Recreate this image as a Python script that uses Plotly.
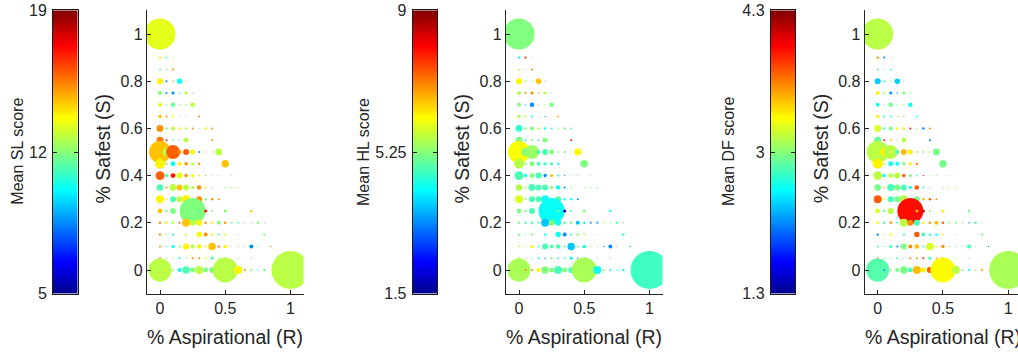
import numpy as np
import plotly.graph_objects as go

# ---------------- data ----------------
aspirational = [
    0,
    0, .05, .1,
    0, .05, .1,
    0, .05, .1, .15, .2,
    0, .05, .1, .15, .2, .25,
    0, .05, .1, .15, .2, .25,
    0, .05, .1, .15, .2, .3,
    0, .05, .1, .15, .2, .25, .3, .35, .4,
    0, .05, .1, .15, .2, .4,
    0, .05, .1, .15, .2, .25, .3, .35, .4, .45,
    0, .05, .1, .15, .2, .25, .3, .5,
    0, .05, .1, .15, .2, .25, .3, .35, .4, .45, .55,
    0, .05, .1, .15, .2, .25, .3, .35, .4, .5, .55, .6,
    0, .05, .1, .15, .2, .25, .3, .35, .4, .45,
    0, .05, .1, .25, .3, .35, .4, .5, .7,
    0, .05, .1, .15, .2, .25, .3, .35, .4, .45, .5, .55, .6, .65, .7, .75, .8,
    0, .05, .1, .2, .3, .35, .4, .45, .5, .6, .8,
    0, .05, .1, .15, .2, .25, .3, .35, .4, .45, .5, .55, .6, .65, .7, .75, .85,
    0, .05, .1, .15, .2, .25, .3, .35, .4, .45, .5, .6, .7,
    0, .05, .1, .15, .2, .25, .3, .35, .4, .5, .6, .65, .7, .75, .8, 1,
]

safest = (
    [1.0]
    + [0.9] * 3
    + [0.85] * 3
    + [0.8] * 5
    + [0.75] * 6
    + [0.7] * 6
    + [0.65] * 6
    + [0.6] * 9
    + [0.55] * 6
    + [0.5] * 10
    + [0.45] * 8
    + [0.4] * 11
    + [0.35] * 12
    + [0.3] * 10
    + [0.25] * 9
    + [0.2] * 17
    + [0.15] * 11
    + [0.1] * 17
    + [0.05] * 13
    + [0.0] * 16
)

n_resp = [
    480,
    3, 2, 1,
    2, 1, 2,
    18, 2, 1, 15, 1,
    8, 2, 5, 1, 5, 1,
    8, 1, 10, 1, 1, 10,
    6, 2, 2, 1, 1, 2,
    24, 3, 8, 3, 3, 2, 1, 3, 2,
    24, 2, 2, 1, 12, 2,
    242, 32, 98, 8, 18, 12, 2, 1, 1, 24,
    50, 3, 12, 8, 6, 5, 3, 28,
    40, 6, 12, 18, 6, 5, 2, 1, 1, 1, 1,
    21, 2, 24, 18, 18, 5, 10, 2, 1, 1, 1, 1,
    32, 2, 18, 18, 32, 3, 18, 3, 3, 2,
    12, 3, 18, 338, 3, 5, 2, 5, 3,
    3, 3, 3, 2, 32, 18, 18, 3, 3, 8, 3, 2, 2, 1, 1, 3, 1,
    3, 1, 3, 3, 15, 8, 3, 3, 2, 1, 3,
    2, 1, 5, 2, 18, 8, 10, 2, 28, 2, 6, 1, 1, 1, 8, 1, 1,
    2, 1, 1, 2, 1, 2, 2, 2, 5, 1, 2, 1, 1,
    265, 2, 2, 8, 28, 12, 32, 12, 18, 312, 32, 2, 2, 1, 3, 722,
]

sl_mean = [
    13.3,
    13.8, 11.2, 12.0,
    11.2, 12.0, 15.2,
    13.8, 8.5, 15.2, 10.3, 12.0,
    11.9, 8.5, 8.5, 10.3, 12.7, 12.0,
    13.3, 11.2, 11.6, 12.0, 12.0, 12.7,
    14.5, 15.2, 13.8, 12.0, 12.0, 15.2,
    15.2, 11.9, 12.7, 13.8, 12.7, 15.2, 12.0, 13.8, 15.2,
    15.5, 16.9, 11.9, 12.0, 12.7, 15.2,
    14.5, 12.7, 15.9, 15.2, 15.9, 13.8, 8.5, 12.0, 12.0, 12.7,
    13.8, 11.9, 10.3, 13.8, 15.2, 12.7, 15.2, 14.5,
    15.9, 11.2, 16.9, 13.3, 15.2, 13.8, 13.8, 15.2, 12.0, 12.0, 12.0,
    11.2, 15.2, 12.7, 14.5, 12.7, 12.7, 15.2, 13.8, 12.0, 12.0, 12.0, 12.7,
    13.8, 13.8, 11.2, 12.7, 13.8, 12.0, 15.2, 11.9, 15.2, 15.2,
    14.5, 11.9, 11.9, 11.9, 11.2, 16.9, 11.9, 11.9, 14.5,
    15.2, 13.8, 12.7, 15.9, 14.5, 12.7, 13.8, 15.2, 13.8, 11.9, 15.2, 12.0, 11.2, 12.0, 12.0, 11.9, 12.0,
    15.2, 12.0, 11.2, 12.7, 13.8, 15.2, 13.8, 11.9, 12.7, 12.0, 11.9,
    15.2, 10.3, 10.3, 12.0, 13.8, 12.7, 13.8, 13.8, 14.5, 15.9, 13.8, 12.0, 12.0, 12.0, 8.5, 12.0, 15.2,
    15.2, 12.0, 12.0, 10.3, 12.0, 15.2, 15.2, 13.8, 11.2, 12.0, 11.9, 12.0, 12.0,
    12.7, 13.8, 12.0, 10.3, 11.2, 11.9, 12.7, 11.9, 11.9, 12.7, 13.8, 15.2, 11.9, 10.3, 11.9, 12.7,
]

hl_mean = [
    5.2,
    4.35, 7.9, 5.25,
    5.6, 5.25, 7.0,
    6.2, 5.6, 5.25, 6.6, 5.25,
    5.6, 7.0, 7.0, 7.0, 5.6, 5.25,
    5.2, 4.35, 3.4, 5.25, 5.25, 5.2,
    5.6, 5.6, 4.35, 5.25, 3.4, 6.6,
    4.6, 5.2, 5.2, 5.6, 4.35, 4.35, 5.25, 5.2, 4.8,
    5.2, 4.35, 5.2, 3.4, 5.2, 7.9,
    6.1, 5.2, 5.4, 4.8, 4.8, 5.2, 5.25, 3.4, 5.25, 6.2,
    5.6, 5.2, 5.2, 4.8, 4.8, 4.8, 4.35, 5.2,
    4.8, 4.35, 5.2, 4.8, 3.4, 6.6, 4.35, 3.4, 5.25, 5.25, 5.25,
    5.6, 5.6, 4.8, 4.8, 4.8, 5.2, 4.35, 3.4, 5.25, 5.25, 5.25, 4.8,
    5.9, 5.2, 4.8, 4.8, 4.35, 4.8, 4.8, 4.35, 4.35, 3.4,
    5.2, 5.2, 4.8, 4.3, 5.2, 1.9, 4.35, 5.2, 4.35,
    5.2, 4.8, 4.8, 4.35, 3.8, 5.2, 4.35, 4.8, 5.2, 3.8, 4.35, 3.4, 3.4, 5.25, 5.25, 4.8, 5.25,
    5.2, 5.25, 5.2, 4.35, 4.35, 3.4, 4.8, 5.2, 5.6, 5.25, 4.35,
    5.6, 5.6, 6.2, 4.8, 4.8, 4.8, 4.8, 4.8, 3.8, 5.2, 4.35, 5.25, 5.25, 3.4, 3.4, 5.25, 3.4,
    5.6, 5.25, 4.8, 4.35, 3.4, 4.8, 4.35, 4.8, 4.35, 3.4, 4.35, 5.25, 5.25,
    5.5, 7.0, 7.0, 6.2, 5.2, 5.2, 4.8, 5.2, 4.8, 5.5, 4.35, 5.2, 4.35, 4.35, 4.35, 4.7,
]

df_mean = [
    2.95,
    3.5, 2.05, 2.8,
    2.6, 2.8, 2.6,
    2.25, 2.45, 2.8, 2.25, 2.8,
    3.2, 2.8, 2.05, 2.05, 2.75, 2.8,
    2.45, 2.8, 2.75, 2.8, 2.8, 2.45,
    3.2, 2.45, 2.45, 2.8, 3.5, 2.45,
    3.05, 2.6, 2.75, 3.2, 3.2, 3.85, 2.8, 2.05, 3.5,
    2.7, 3.85, 3.35, 2.8, 2.95, 2.05,
    2.95, 3.2, 2.95, 2.6, 3.35, 3.2, 2.8, 3.5, 2.8, 2.75,
    3.2, 2.95, 2.45, 2.45, 2.75, 3.2, 3.5, 2.75,
    2.95, 2.45, 2.95, 2.95, 3.65, 2.75, 2.6, 3.85, 2.8, 2.8, 2.8,
    2.75, 3.2, 2.6, 2.75, 2.6, 2.45, 3.65, 2.45, 2.8, 2.8, 2.8, 3.2,
    3.65, 3.2, 2.6, 2.75, 2.95, 3.2, 2.75, 3.35, 3.65, 3.5,
    3.05, 2.75, 2.95, 3.88, 3.2, 4.1, 2.8, 3.2, 2.75,
    3.2, 2.6, 3.5, 2.6, 2.95, 3.5, 2.6, 3.2, 3.5, 3.35, 3.65, 2.8, 2.75, 2.8, 2.05, 2.6, 2.8,
    2.05, 2.8, 3.2, 2.6, 3.65, 2.6, 2.45, 2.45, 3.2, 2.8, 2.75,
    2.6, 2.8, 2.6, 2.05, 2.75, 3.5, 3.35, 2.6, 3.05, 3.2, 3.5, 2.8, 2.8, 2.8, 2.6, 2.8, 2.05,
    3.5, 2.8, 2.8, 2.6, 2.6, 3.5, 3.5, 3.85, 2.6, 3.5, 3.5, 2.8, 2.8,
    2.65, 2.05, 2.8, 2.75, 2.75, 2.6, 3.35, 3.2, 3.65, 3.17, 2.95, 2.8, 2.45, 3.2, 3.35, 2.9,
]

score_labels = ["Mean SL score", "Mean HL score", "Mean DF score"]
score_ranges = [(5, 19), (1.5, 9), (1.3, 4.3)]
score_tickvals = [[5, 12, 19], [1.5, 5.25, 9], [1.3, 2.8, 4.3]]
score_ticktext = [["5", "12", "19"], ["1.5", "5.25", "9"], ["1.3", "3", "4.3"]]
x_tickvals = [0, 0.5, 1]
x_ticktext = ["0", "0.5", "1"]
y_tickvals = [0, 0.2, 0.4, 0.6, 0.8, 1]
y_ticktext = ["0", "0.2", "0.4", "0.6", "0.8", "1"]

# ---------------- style / layout ----------------
JET = [[0.0, "rgb(0,0,143)"], [0.111, "rgb(0,0,255)"], [0.365, "rgb(0,255,255)"],
       [0.619, "rgb(255,255,0)"], [0.873, "rgb(255,0,0)"], [1.0, "rgb(128,0,0)"]]
W, H = 1018, 354
TOP, BOT = 10.4, 293.6
FONT = "Liberation Sans, Arial, Helvetica, sans-serif"
TXT = "#262626"
TICK_SIZE = 16


def fx(px):
    return px / W


def fy(py):
    return 1 - py / H


cbar_left = [53.0, 412.7, 770.8]
cbar_w = 24.5
ax_left = [146.95, 505.95, 864.65]
ax_w = 156.6
cbar_title_dx = [-35.0, -49.4, -42.5]

fig = go.Figure()
layout = dict(width=W, height=H, margin=dict(l=0, r=0, t=0, b=0, pad=0, autoexpand=False),
              paper_bgcolor="white", plot_bgcolor="white",
              font=dict(family=FONT, color=TXT, size=15), showlegend=False)
annotations = []
values = [sl_mean, hl_mean, df_mean]

for i in range(3):
    cmin, cmax = score_ranges[i]
    ci = 2 * i + 1
    si = 2 * i + 2
    cxn = "x" if ci == 1 else f"x{ci}"
    cyn = "y" if ci == 1 else f"y{ci}"
    sxn, syn = f"x{si}", f"y{si}"

    # colorbar drawn as a heatmap strip
    grad = np.linspace(cmin, cmax, 256)
    fig.add_trace(go.Heatmap(x=[0], y=grad, z=[[v] for v in grad], colorscale=JET,
                             zmin=cmin, zmax=cmax, showscale=False, hoverinfo="skip",
                             xaxis=cxn, yaxis=cyn))
    layout["xaxis" if ci == 1 else f"xaxis{ci}"] = dict(
        domain=[fx(cbar_left[i]), fx(cbar_left[i] + cbar_w)], range=[-0.5, 0.5],
        showticklabels=False, ticks="", showgrid=False, zeroline=False, automargin=False,
        showline=True, mirror=True, linecolor="#1a1a1a", linewidth=1, anchor=cyn)
    layout["yaxis" if ci == 1 else f"yaxis{ci}"] = dict(
        domain=[fy(BOT), fy(TOP)], range=[cmin, cmax], tickvals=score_tickvals[i],
        ticktext=score_ticktext[i], ticks="inside", ticklen=4, tickcolor="#1a1a1a",
        showgrid=False, zeroline=False, showline=True, mirror="ticks", automargin=False,
        linecolor="#1a1a1a", linewidth=1, tickfont=dict(size=TICK_SIZE, color=TXT),
        anchor=cxn, ticklabelstandoff=2)

    # bubble scatter
    fig.add_trace(go.Scatter(x=aspirational, y=safest, mode="markers",
                             marker=dict(size=n_resp, sizemode="area", sizeref=1,
                                         color=values[i], colorscale=JET, cmin=cmin, cmax=cmax,
                                         line=dict(width=0), opacity=1),
                             xaxis=sxn, yaxis=syn, hoverinfo="skip"))
    right_px = min(ax_left[i] + ax_w, W)
    xr_right = -0.1 + 1.2 * (right_px - ax_left[i]) / ax_w
    layout[f"xaxis{si}"] = dict(
        domain=[fx(ax_left[i]), fx(right_px)], range=[-0.1, xr_right],
        tickvals=x_tickvals, ticktext=x_ticktext, ticks="inside", ticklen=4,
        tickcolor=TXT, showgrid=False, zeroline=False, showline=True, automargin=False,
        linecolor=TXT, linewidth=1, tickfont=dict(size=TICK_SIZE, color=TXT), anchor=syn)
    layout[f"yaxis{si}"] = dict(
        domain=[fy(BOT), fy(TOP)], range=[-0.1, 1.1], tickvals=y_tickvals,
        ticktext=y_ticktext, ticks="inside", ticklen=4, tickcolor=TXT, automargin=False,
        showgrid=False, zeroline=False, showline=True, linecolor=TXT, linewidth=1,
        tickfont=dict(size=TICK_SIZE, color=TXT), anchor=sxn)

    # titles
    annotations.append(dict(text=score_labels[i], x=fx(cbar_left[i] + cbar_title_dx[i]),
                            y=fy(151.7), xref="paper", yref="paper", showarrow=False,
                            textangle=-90, font=dict(size=16, color=TXT),
                            xanchor="center", yanchor="middle"))
    annotations.append(dict(text="% Safest (S)", x=fx(ax_left[i] - 44.0), y=fy(148.5),
                            xref="paper", yref="paper", showarrow=False, textangle=-90,
                            font=dict(size=19.5, color=TXT), xanchor="center", yanchor="middle"))
    annotations.append(dict(text="% Aspirational (R)", x=fx(ax_left[i] + ax_w / 2), y=fy(337),
                            xref="paper", yref="paper", showarrow=False,
                            font=dict(size=19.5, color=TXT), xanchor="center", yanchor="middle"))

layout["annotations"] = annotations
fig.update_layout(**layout)
fig.write_html("out.html", config={"displayModeBar": False, "staticPlot": True},
               post_script="document.body.style.margin='0';document.body.style.overflow='hidden';")
